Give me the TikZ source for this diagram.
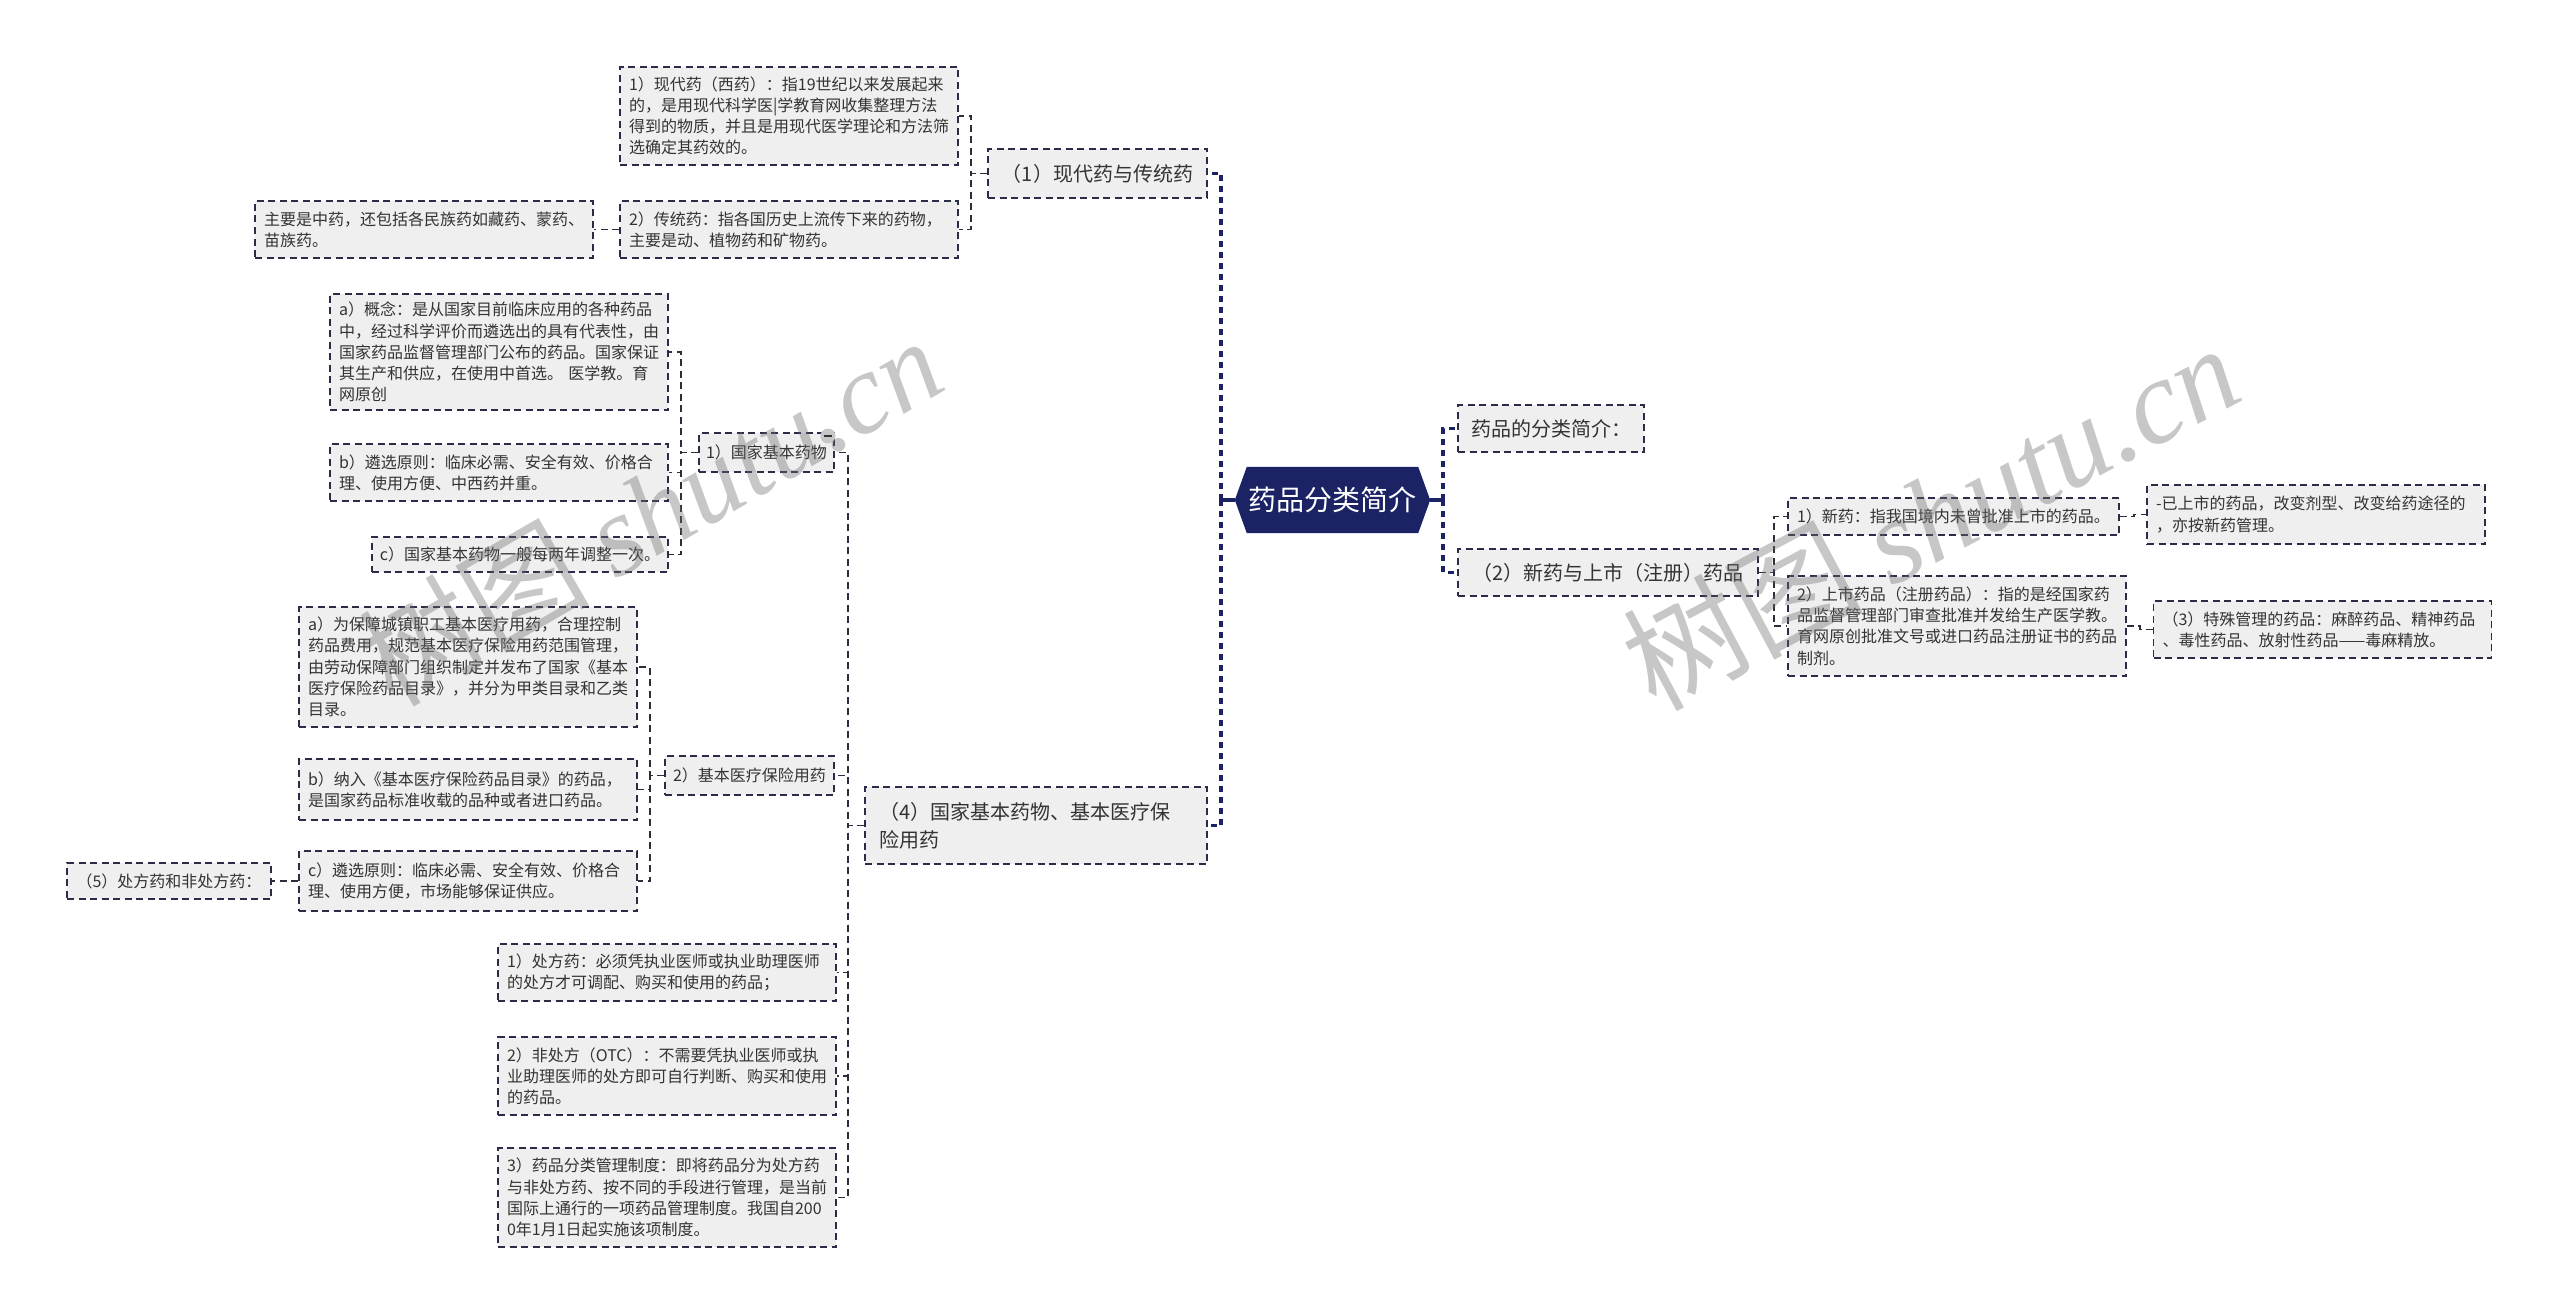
\documentclass[tikz,border=0pt]{standalone}
\usepackage{fontspec}
\setmainfont{Noto Sans CJK SC}
\newfontfamily\wmlatin{Liberation Serif}
\usetikzlibrary{calc}
\definecolor{rootc}{RGB}{27,35,100}
\definecolor{boxfill}{RGB}{239,239,239}
\definecolor{boxc}{RGB}{42,44,72}
\definecolor{linkc}{RGB}{45,45,60}
\definecolor{txtc}{RGB}{51,51,51}
\definecolor{wmc}{RGB}{110,110,110}
\pgfdeclarelayer{bg}
\pgfsetlayers{bg,main}
\begin{document}
\begin{tikzpicture}[x=1pt,y=-1pt,
  box/.style={draw=boxc, fill=boxfill, line width=1.6pt, dash pattern=on 7pt off 4.5pt, inner ysep=0pt, text=txtc},
  sA/.style={font=\fontsize{16}{21.2}\selectfont},
  sB/.style={font=\fontsize{20}{28}\selectfont},
  leaf/.style={box, sA, align=left, inner xsep=9pt, text width=320pt},
  single/.style={box, inner xsep=0pt, align=center},
  lk/.style={draw=linkc, line width=1.6pt, dash pattern=on 7pt off 4.5pt},
  mainlk/.style={draw=rootc, line width=3.5pt, dash pattern=on 6pt off 5pt},
  wm/.style={text=wmc, text opacity=0.38, inner sep=0pt}
]
\begin{pgfonlayer}{bg}
\fill[white] (0,0) rectangle (2560,1316);
\end{pgfonlayer}
\useasboundingbox (0,0) rectangle (2560,1316);

% root
\node[minimum width=195pt, minimum height=66pt, inner sep=0pt, text=white, font=\fontsize{28}{34}\selectfont] (root) at (1332.5,500) {药品分类简介};
\begin{pgfonlayer}{bg}
\fill[rootc] (root.west) -- ([xshift=12pt]root.north west) -- ([xshift=-12pt]root.north east) -- (root.east) -- ([xshift=-12pt]root.south east) -- ([xshift=12pt]root.south west) -- cycle;
\end{pgfonlayer}

% right side
\node[single, sB, minimum width=186pt, minimum height=47pt] (n1) at (1551,428.5) {药品的分类简介：};
\node[single, sB, minimum width=300pt, minimum height=47pt] (n2) at (1608,572.5) {（2）新药与上市（注册）药品};
\node[single, sA, minimum width=331pt, minimum height=37pt] (n3) at (1953.5,516.5) {1）新药：指我国境内未曾批准上市的药品。};
\node[leaf, minimum height=59pt] (n23) at (2316,514.5) {-已上市的药品，改变剂型、改变给药途径的\\，亦按新药管理。};
\node[leaf, minimum height=100pt] (n22) at (1957,626) {2）上市药品（注册药品）：指的是经国家药\\品监督管理部门审查批准并发给生产医学教。\\育网原创批准文号或进口药品注册证书的药品\\制剂。};
\node[leaf, minimum height=57pt] (n24) at (2322.5,629.5) {（3）特殊管理的药品：麻醉药品、精神药品\\、毒性药品、放射性药品——毒麻精放。};

% left side
\node[single, sB, minimum width=219pt, minimum height=49pt] (n5) at (1097.5,173.5) {（1）现代药与传统药};
\node[leaf, minimum height=98pt] (n6) at (789,116) {1）现代药（西药）：指19世纪以来发展起来\\的，是用现代科学医|学教育网收集整理方法\\得到的物质，并且是用现代医学理论和方法筛\\选确定其药效的。};
\node[leaf, minimum height=57pt] (n7) at (789,229.5) {2）传统药：指各国历史上流传下来的药物，\\主要是动、植物药和矿物药。};
\node[leaf, minimum height=57pt] (n8) at (424,229.5) {主要是中药，还包括各民族药如藏药、蒙药、\\苗族药。};

\node[box, sB, align=left, inner xsep=14pt, text width=314pt, minimum height=77pt] (n9) at (1036,825.5) {（4）国家基本药物、基本医疗保\\险用药};

\node[single, sA, minimum width=135pt, minimum height=39pt] (n10) at (766.5,452.5) {1）国家基本药物};
\node[leaf, minimum height=116pt] (n11) at (499,352) {a）概念：是从国家目前临床应用的各种药品\\中，经过科学评价而遴选出的具有代表性，由\\国家药品监督管理部门公布的药品。国家保证\\其生产和供应，在使用中首选。 医学教。育\\网原创};
\node[leaf, minimum height=57pt] (n12) at (499,472.5) {b）遴选原则：临床必需、安全有效、价格合\\理、使用方便、中西药并重。};
\node[single, sA, minimum width=296pt, minimum height=35pt] (n13) at (520,554.5) {c）国家基本药物一般每两年调整一次。};

\node[single, sA, minimum width=169pt, minimum height=39pt] (n14) at (749.5,775.5) {2）基本医疗保险用药};
\node[leaf, minimum height=120pt] (n15) at (468,667) {a）为保障城镇职工基本医疗用药，合理控制\\药品费用，规范基本医疗保险用药范围管理，\\由劳动保障部门组织制定并发布了国家《基本\\医疗保险药品目录》，并分为甲类目录和乙类\\目录。};
\node[leaf, minimum height=61pt] (n16) at (468,789.5) {b）纳入《基本医疗保险药品目录》的药品，\\是国家药品标准收载的品种或者进口药品。};
\node[leaf, minimum height=60pt] (n17) at (468,881) {c）遴选原则：临床必需、安全有效、价格合\\理、使用方便，市场能够保证供应。};
\node[single, sA, minimum width=204pt, minimum height=36pt] (n18) at (169,881) {（5）处方药和非处方药：};

\node[leaf, minimum height=57pt] (n19) at (667,972.5) {1）处方药：必须凭执业医师或执业助理医师\\的处方才可调配、购买和使用的药品；};
\node[leaf, minimum height=78pt] (n20) at (667,1076) {2）非处方（OTC）：不需要凭执业医师或执\\业助理医师的处方即可自行判断、购买和使用\\的药品。};
\node[leaf, minimum height=99pt] (n21) at (667,1197.5) {3）药品分类管理制度：即将药品分为处方药\\与非处方药、按不同的手段进行管理，是当前\\国际上通行的一项药品管理制度。我国自200\\0年1月1日起实施该项制度。};

% collapse marker
\node[circle, fill=black!22, minimum size=15pt, inner sep=0pt] (col) at (828,436) {};
\draw[line width=1.6pt, txtc] ([xshift=-4pt]col.center) -- ([xshift=4pt]col.center);

% root connectors
\coordinate (jL) at (1221,500);
\coordinate (jR) at (1443,500);
\draw[rootc, line width=3.5pt] (root.west) -- (jL);
\draw[rootc, line width=3.5pt] (root.east) -- (jR);
\draw[mainlk] (jL) |- (n5.east);
\draw[mainlk] (jL) |- (n9.east);
\draw[mainlk] (jR) |- (n1.west);
\draw[mainlk] (jR) |- (n2.west);

% level 2+
\draw[lk] (n2.east) -- ++(15,0) |- (n3.west);
\draw[lk] (n2.east) -- ++(15,0) |- (n22.west);
\draw[lk] (n3.east) -- ++(14,0) |- (n23.west);
\draw[lk] (n22.east) -- ++(13,0) |- (n24.west);

\draw[lk] (n5.west) -- ++(-16,0) |- (n6.east);
\draw[lk] (n5.west) -- ++(-16,0) |- (n7.east);
\draw[lk] (n7.west) -- (n8.east);

\draw[lk] (n9.west) -- ++(-16,0) |- (n10.east);
\draw[lk] (n9.west) -- ++(-16,0) |- (n14.east);
\draw[lk] (n9.west) -- ++(-16,0) |- (n19.east);
\draw[lk] (n9.west) -- ++(-16,0) |- (n20.east);
\draw[lk] (n9.west) -- ++(-16,0) |- (n21.east);

\draw[lk] (n10.west) -- ++(-17,0) |- (n11.east);
\draw[lk] (n10.west) -- ++(-17,0) |- (n12.east);
\draw[lk] (n10.west) -- ++(-17,0) |- (n13.east);

\draw[lk] (n14.west) -- ++(-14,0) |- (n15.east);
\draw[lk] (n14.west) -- ++(-14,0) |- (n16.east);
\draw[lk] (n14.west) -- ++(-14,0) |- (n17.east);
\draw[lk] (n17.west) -- (n18.east);

% watermarks
\node[wm, rotate=30, font=\fontsize{115}{120}\selectfont] (wm1) at (650,510) {树图 {\wmlatin\itshape shutu.cn}};
\node[wm, rotate=28, font=\fontsize{120}{125}\selectfont] (wm2) at (1930,515) {树图 {\wmlatin\itshape shutu.cn}};
\end{tikzpicture}
\end{document}
